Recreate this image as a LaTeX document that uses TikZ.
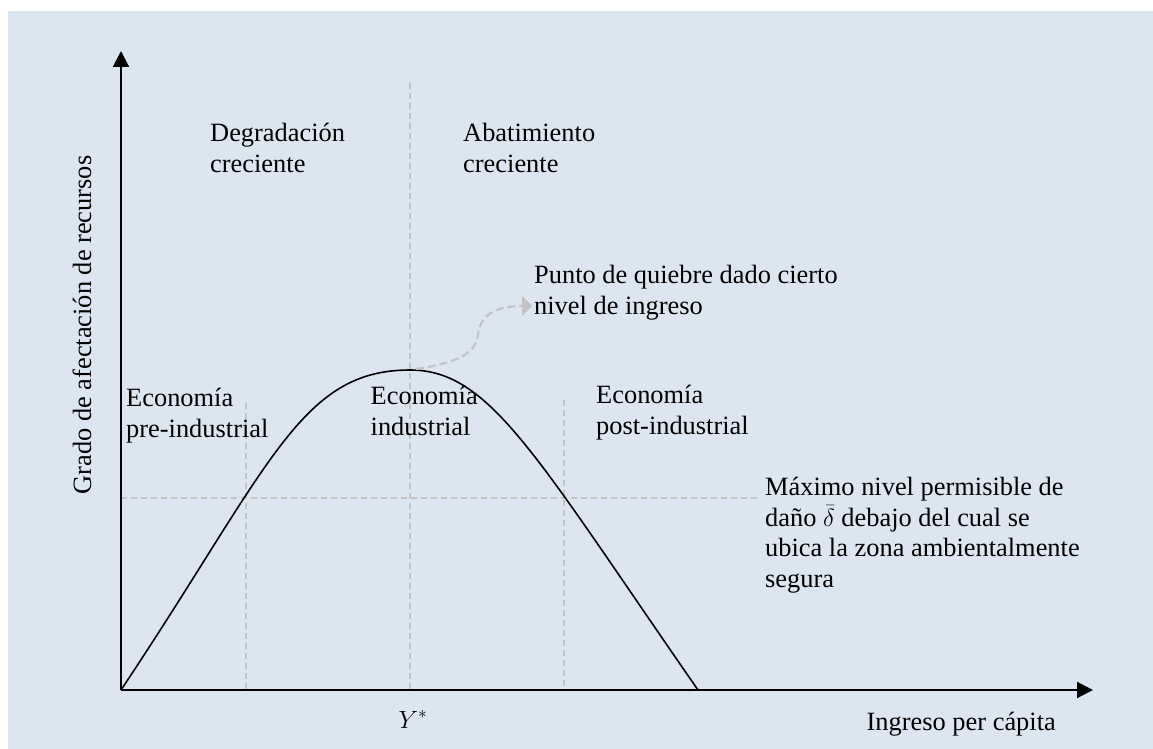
\documentclass[tikz,border=0pt]{standalone}
\usepackage{fontspec}
\setmainfont{Liberation Serif}
\usetikzlibrary{arrows.meta}
\definecolor{bgblue}{RGB}{220,230,241}
\definecolor{dashgray}{RGB}{196,196,196}
\begin{document}
\begin{tikzpicture}[x=1pt,y=-1pt,
  lbl/.style={anchor=base west,inner sep=0pt,align=left,font=\fontsize{26.4}{30.5}\selectfont},
  axisline/.style={line width=2pt,-{Triangle[length=16pt,width=16pt]}},
  guide/.style={draw=dashgray,line width=1.1pt,dash pattern=on 6pt off 4pt},
  curvepath/.style={line width=1.6pt,black},
  pointer/.style={draw=dashgray,line width=2.2pt,dash pattern=on 8pt off 4pt,-{Triangle[length=10pt,width=20pt]}}]
\useasboundingbox (0,0) rectangle (1153,749);
\fill[bgblue] (8,11) rectangle (1153,749);
% coordinates
\coordinate (O) at (121,690);
\coordinate (ytip) at (121,51);
\coordinate (xtip) at (1093,690);
\coordinate (peak) at (410,370);
\coordinate (xend) at (698,690);
% guides
\draw[guide] (246,403) -- (246,690);
\draw[guide] (410,83) -- (410,690);
\draw[guide] (564,400) -- (564,690);
\draw[guide] (121,498) -- (757,498);
% axes
\draw[axisline] (O) -- (ytip);
\draw[axisline] (O) -- (xtip);
% curve
\draw[curvepath] (O) .. controls (271,465) and (300,370) .. (peak)
  .. controls (490,370) and (535,455) .. (xend);
% pointer
\coordinate (pstart) at (416,369);
\coordinate (ptip) at (532,306);
\draw[pointer] (pstart) .. controls (462,362) and (476,352) .. (478,334)
  .. controls (481,312) and (500,306) .. (ptip);
% labels (anchor = baseline of the last line)
\node[lbl] (deg) at (210,172) {Degradación\\creciente};
\node[lbl] (aba) at (463,172) {Abatimiento\\creciente};
\node[lbl] (pto) at (534,314) {Punto de quiebre dado cierto\\nivel de ingreso};
\node[lbl] (pre) at (126,437) {Economía\\pre-industrial};
\node[lbl] (ind) at (370.5,435) {Economía\\industrial};
\node[lbl] (post) at (596,434) {Economía\\post-industrial};
\node[lbl] (max) at (765,587) {Máximo nivel permisible de\\daño $\bar{\delta}$ debajo del cual se\\ubica la zona ambientalmente\\segura};
\node[lbl,anchor=base] (ystar) at (413,728) {$Y^{*}$};
\node[lbl,anchor=base east] (xlab) at (1056,730) {Ingreso per cápita};
\node[lbl,anchor=base,rotate=90] (ylab) at (91,325) {Grado de afectación de recursos};
\end{tikzpicture}
\end{document}
